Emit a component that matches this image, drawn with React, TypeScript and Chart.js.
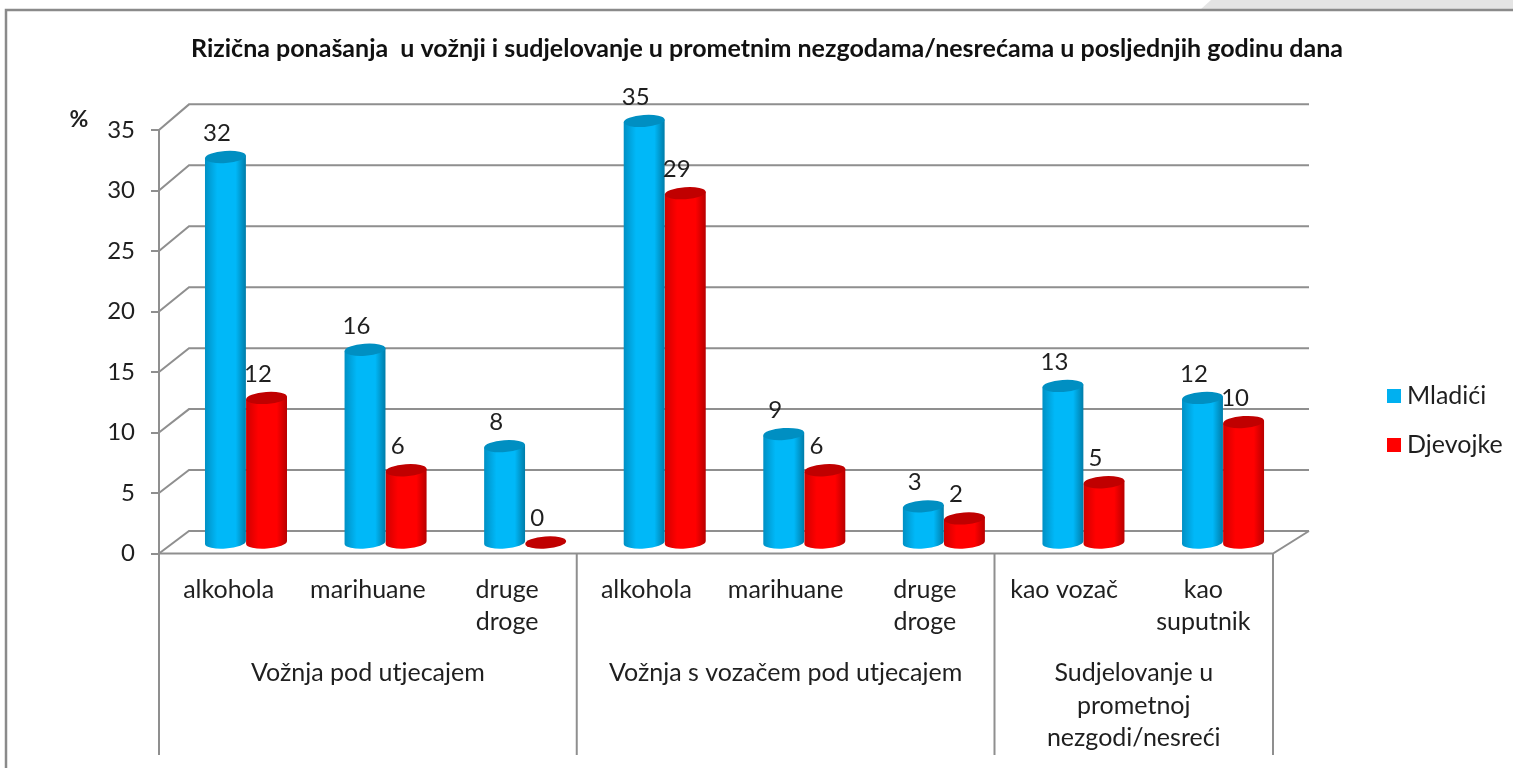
import React, { useEffect, useRef } from "react";
import { Chart, registerables } from "chart.js";

Chart.register(...registerables);

const categories: (string | string[])[] = [
  "alkohola", "marihuane", ["druge", "droge"],
  "alkohola", "marihuane", ["druge", "droge"],
  "kao vozač", ["kao", "suputnik"],
];
const mladici = [32, 16, 8, 35, 9, 3, 13, 12];
const djevojke = [12, 6, 0, 29, 6, 2, 5, 10];
const groupLabels: string[][] = [
  ["Vožnja pod utjecajem"],
  ["Vožnja s vozačem pod utjecajem"],
  ["Sudjelovanje u", "prometnoj", "nezgodi/nesreći"],
];
const groupSpans = [3, 3, 2];
const titleText = "Rizična ponašanja  u vožnji i sudjelovanje u prometnim nezgodama/nesrećama u posljednjih godinu dana";
const seriesNames = ["Mladići", "Djevojke"];

const FONT = "Lato, Carlito, sans-serif";
const GRID = "#8f8f8f";
const TEXT = "#1f1f1f";

function shade(hex: string) {
  return hex === "#00B0F0"
    ? { edgeL: "#0090C4", edgeR: "#007CA8", mid: "#00B8F8", top: "#008FC2" }
    : { edgeL: "#D00000", edgeR: "#B80000", mid: "#FF0000", top: "#C00000" };
}

// Shift from a bar's front-plane x to its place in the 3D depth of the plot.
const depthX = (x: number, left: number) => 17.2 + (x - left) * 0.00236;

const chart3d = {
  id: "chart3d",
  beforeDraw(chart: any) {
    const { ctx, width, height } = chart;
    ctx.save();
    ctx.fillStyle = "#fff";
    ctx.fillRect(0, 0, width, height);
    ctx.fillStyle = "#e4e4e4";
    ctx.beginPath();
    ctx.moveTo(1211, 0);
    ctx.lineTo(1200, 10);
    ctx.lineTo(width, 10);
    ctx.lineTo(width, 0);
    ctx.closePath();
    ctx.fill();
    ctx.strokeStyle = "#8a8a8a";
    ctx.lineWidth = 2.5;
    ctx.beginPath();
    ctx.moveTo(6, height);
    ctx.lineTo(6, 10);
    ctx.lineTo(width, 10);
    ctx.stroke();
    ctx.restore();
  },
  afterLayout(chart: any) {
    const t = chart.titleBlock;
    if (t) {
      t.left = 190; t.right = 1344; t.top = 34; t.bottom = 64;
    }
  },
  beforeDatasetsDraw(chart: any) {
    const { ctx, scales } = chart;
    const y = scales.y, x = scales.x;
    const bx0 = 189, bx1 = 1309;
    const backY = (p: number) => 531 + (p - y.bottom) * 1.0074;
    ctx.save();
    ctx.strokeStyle = GRID;
    ctx.lineWidth = 2;
    y.ticks.forEach((t: any) => {
      const p = y.getPixelForValue(t.value);
      ctx.beginPath();
      ctx.moveTo(x.left, p);
      ctx.lineTo(bx0, backY(p));
      ctx.lineTo(bx1, backY(p));
      ctx.stroke();
    });
    // floor, right edge, category dividers
    ctx.beginPath();
    ctx.moveTo(x.left, y.bottom);
    ctx.lineTo(x.right, y.bottom);
    ctx.lineTo(bx1, backY(y.bottom));
    ctx.stroke();
    const step = x.getPixelForValue(1) - x.getPixelForValue(0);
    let cum = 0;
    const divs = [x.left];
    groupSpans.forEach((n) => { cum += n; divs.push(x.left + cum * step); });
    divs.forEach((d) => {
      ctx.beginPath();
      ctx.moveTo(d, y.bottom);
      ctx.lineTo(d, 755);
      ctx.stroke();
    });
    // group labels
    ctx.fillStyle = TEXT;
    ctx.font = "25px " + FONT;
    ctx.textAlign = "center";
    ctx.textBaseline = "middle";
    groupLabels.forEach((lines, i) => {
      const cx = (divs[i] + divs[i + 1]) / 2;
      lines.forEach((l, j) => ctx.fillText(l, cx, 673 + j * 32.5));
    });
    // "%" mark
    ctx.font = "bold 23px " + FONT;
    ctx.fillText("%", 79, 120);
    // legend
    ctx.textAlign = "left";
    ctx.font = "25px " + FONT;
    chart.data.datasets.forEach((ds: any, i: number) => {
      const ly = 396 + i * 49;
      ctx.fillStyle = ds.backgroundColor;
      ctx.fillRect(1387, ly - 7, 14, 14);
      ctx.fillStyle = TEXT;
      ctx.fillText(ds.label, 1407, ly);
    });
    ctx.restore();
  },
  beforeDatasetDraw(chart: any, args: any) {
    const { ctx, scales } = chart;
    const y = scales.y;
    const meta = args.meta;
    const color = chart.data.datasets[args.index].backgroundColor;
    const s = shade(color);
    const rot = -0.07, ry = 6;
    const y0 = y.getPixelForValue(0);
    ctx.save();
    meta.data.forEach((bar: any) => {
      const p = bar.getProps(["x", "y", "base", "width"], true);
      const cx = p.x + depthX(p.x, scales.x.left);
      const a = p.width / 2;
      const botY = y0 - 11;
      const topY = botY + (p.y - y0) * 0.9955;
      const lx = cx - a * Math.cos(rot), rx = cx + a * Math.cos(rot);
      const off = a * Math.sin(rot);
      if (p.y < y0 - 0.5) {
        const g = ctx.createLinearGradient(cx - a, 0, cx + a, 0);
        g.addColorStop(0, s.edgeL);
        g.addColorStop(0.3, s.mid);
        g.addColorStop(0.75, s.mid);
        g.addColorStop(1, s.edgeR);
        ctx.fillStyle = g;
        ctx.beginPath();
        ctx.moveTo(lx, topY - off);
        ctx.lineTo(lx, botY - off);
        ctx.ellipse(cx, botY, a, ry, rot, Math.PI, 0, true);
        ctx.lineTo(rx, topY + off);
        ctx.closePath();
        ctx.fill();
      }
      ctx.fillStyle = s.top;
      ctx.beginPath();
      ctx.ellipse(cx, topY, a, ry, rot, 0, Math.PI * 2);
      ctx.fill();
    });
    ctx.restore();
    return false;
  },
  afterDatasetsDraw(chart: any) {
    const { ctx, scales } = chart;
    const y = scales.y;
    const y0 = y.getPixelForValue(0);
    ctx.save();
    ctx.fillStyle = TEXT;
    ctx.font = "24px " + FONT;
    ctx.textAlign = "center";
    ctx.textBaseline = "middle";
    chart.data.datasets.forEach((ds: any, di: number) => {
      chart.getDatasetMeta(di).data.forEach((bar: any, i: number) => {
        const topY = y0 - 11 + (bar.y - y0) * 0.9955;
        const lx = bar.x + depthX(bar.x, scales.x.left) - 8.5;
        ctx.fillText(String(ds.data[i]), lx, topY - 24);
      });
    });
    ctx.restore();
  },
};

export default function App() {
  const ref = useRef<HTMLCanvasElement | null>(null);
  useEffect(() => {
    if (!ref.current) return;
    const chart = new Chart(ref.current, {
      type: "bar",
      data: {
        labels: categories as any,
        datasets: [
          { label: seriesNames[0], data: mladici, backgroundColor: "#00B0F0", categoryPercentage: 0.589, barPercentage: 1 },
          { label: seriesNames[1], data: djevojke, backgroundColor: "#FF0000", categoryPercentage: 0.589, barPercentage: 1 },
        ],
      },
      plugins: [chart3d],
      options: {
        responsive: false,
        animation: false,
        layout: { padding: { left: 0, right: 240, top: 100, bottom: 0 } },
        plugins: {
          legend: { display: false },
          tooltip: { enabled: false },
          title: {
            display: true,
            text: titleText,
            color: "#111",
            padding: 0,
            font: { family: FONT, size: 25, weight: "bold" },
          },
        },
        scales: {
          x: {
            afterFit(s: any) { s.height = 214.5; },
            grid: { display: false },
            border: { display: false },
            ticks: {
              autoSkip: false,
              maxRotation: 0,
              color: TEXT,
              padding: 12.5,
              font: { family: FONT, size: 25, lineHeight: 1.28 },
            },
          },
          y: {
            min: 0,
            max: 35,
            afterFit(s: any) { s.width = 159; },
            grid: { drawOnChartArea: false, tickLength: 8, color: GRID, lineWidth: 2 },
            border: { display: true, color: GRID, width: 2 },
            ticks: {
              stepSize: 5,
              color: TEXT,
              padding: 16,
              font: { family: FONT, size: 24 },
            },
          },
        },
      } as any,
    });
    return () => chart.destroy();
  }, []);
  return (
    <div style={{ position: "fixed", left: 0, top: 0, width: 1513, height: 768, background: "#fff" }}>
      <canvas ref={ref} width={1513} height={768} style={{ display: "block", filter: "blur(0.5px)" }} />
    </div>
  );
}
